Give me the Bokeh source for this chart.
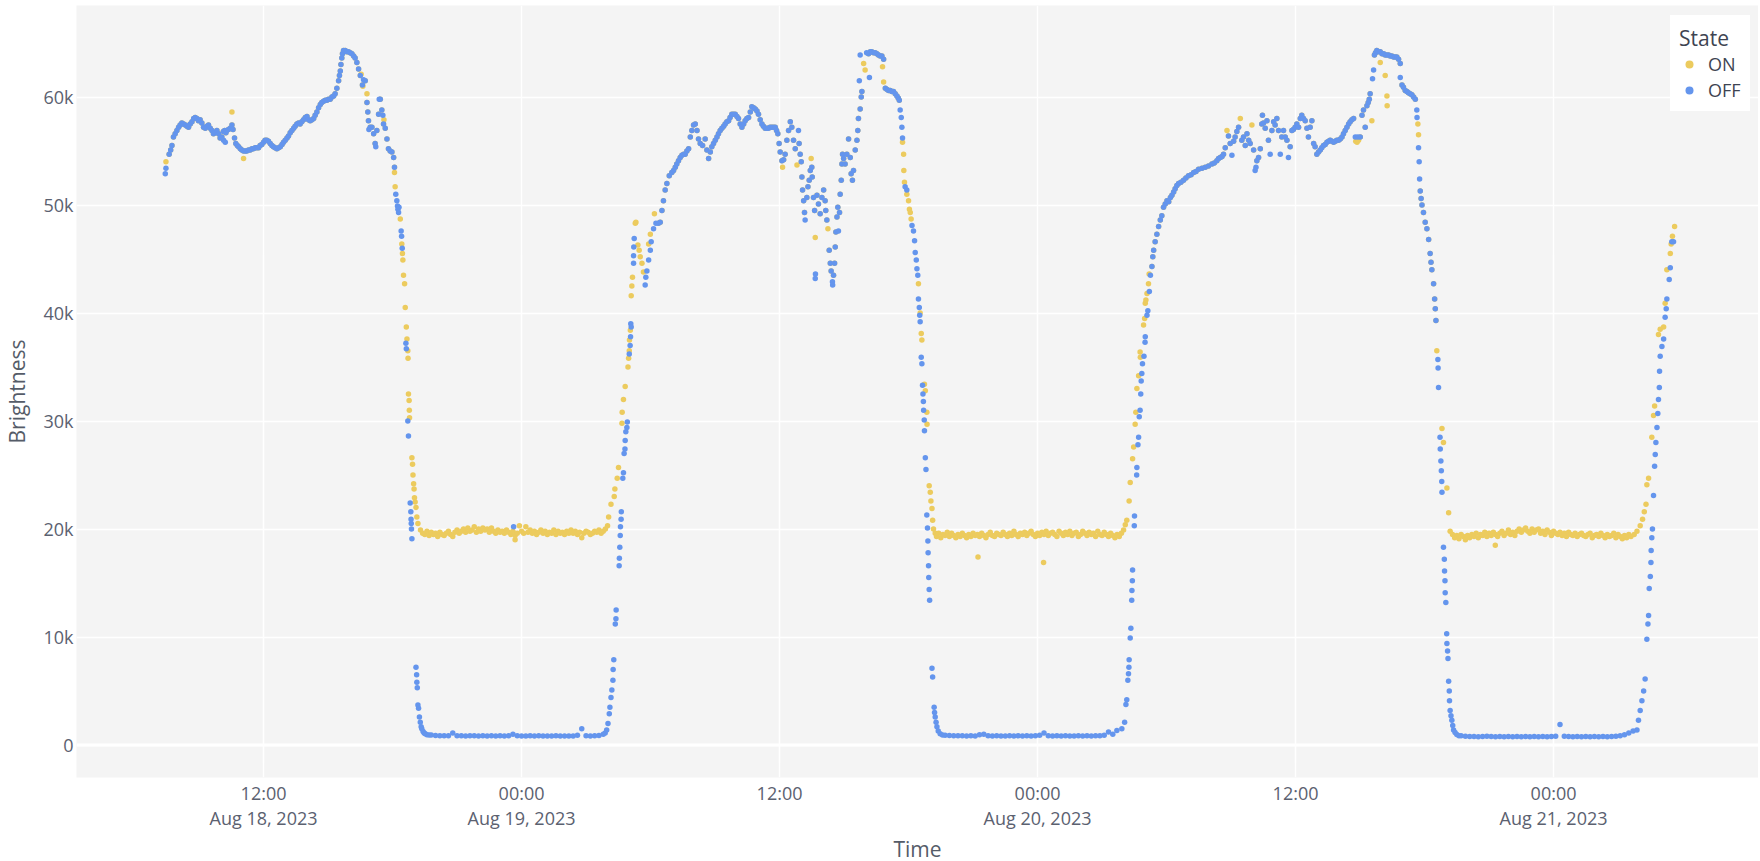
import pandas as pd
from bokeh.plotting import figure
from bokeh.models import FixedTicker, Range1d, Span, ColumnDataSource
from bokeh.embed import file_html
from bokeh.resources import INLINE

T0 = pd.Timestamp("2023-08-18 00:00")

# ---------------- data: (hours after 2023-08-18 00:00, brightness in thousands) ----------------
# daytime readings recorded under both states (curves overlap)
both_aug18 = [
    (7.61, 54.7), (7.68, 55.1), (7.74, 55.5), (7.81, 56.3), (7.89, 56.6), (7.97, 56.9), (8.05, 57.2), (8.12, 57.4),
    (8.20, 57.6), (8.28, 57.5), (8.36, 57.4), (8.44, 57.3), (8.51, 57.2), (8.59, 57.5), (8.67, 57.7), (8.75, 58.0),
    (8.82, 58.1), (8.90, 58.0), (8.97, 57.8), (9.05, 57.9), (9.13, 57.6), (9.21, 57.2), (9.29, 57.1), (9.36, 57.3),
    (9.44, 57.4), (9.52, 57.1), (9.60, 56.9), (9.67, 56.6), (9.75, 56.7), (9.83, 56.9), (9.91, 56.6), (9.98, 56.2),
    (10.06, 56.3), (10.13, 56.8), (10.19, 56.9), (10.25, 56.7), (10.29, 56.9), (10.37, 57.0), (10.45, 57.1),
    (10.53, 57.4), (10.58, 57.0), (10.65, 56.2), (10.71, 55.7), (10.78, 55.5), (10.84, 55.4), (10.92, 55.2),
    (10.99, 55.1), (11.07, 55.0), (11.15, 55.0), (11.22, 55.0), (11.30, 55.1), (11.38, 55.1), (11.46, 55.2),
    (11.53, 55.2), (11.61, 55.3), (11.69, 55.3), (11.77, 55.3), (11.84, 55.5), (11.92, 55.6), (12.00, 55.8),
    (12.07, 56.0), (12.15, 56.0), (12.23, 55.9), (12.31, 55.7), (12.39, 55.5), (12.46, 55.4), (12.54, 55.3),
    (12.62, 55.2), (12.70, 55.3), (12.78, 55.4), (12.86, 55.6), (12.93, 55.8), (13.01, 56.0), (13.09, 56.2),
    (13.16, 56.4), (13.24, 56.7), (13.32, 56.9), (13.40, 57.1), (13.47, 57.3), (13.55, 57.5), (13.63, 57.6),
    (13.70, 57.5), (13.78, 57.7), (13.86, 57.9), (13.94, 58.1), (14.02, 58.2), (14.09, 57.9), (14.17, 57.8),
    (14.25, 57.9), (14.33, 58.0), (14.40, 58.3), (14.48, 58.6), (14.56, 59.0), (14.64, 59.3), (14.71, 59.5),
    (14.79, 59.6), (14.87, 59.7), (14.95, 59.7), (15.02, 59.8), (15.10, 59.8), (15.18, 60.0), (15.26, 60.1),
    (15.33, 60.3), (15.41, 60.8), (15.49, 61.5), (15.53, 62.0), (15.57, 62.4), (15.60, 63.0), (15.64, 63.6),
    (15.67, 64.0), (15.72, 64.3), (15.80, 64.3), (15.87, 64.2), (15.95, 64.2), (16.03, 64.1), (16.11, 64.0),
    (16.19, 63.8), (16.26, 63.6), (16.34, 63.2), (16.42, 62.6), (16.50, 62.0), (16.60, 61.1), (16.73, 61.5),
    (16.81, 59.5), (16.85, 58.6), (16.88, 57.8), (16.96, 57.2), (17.04, 57.2), (17.12, 56.6), (17.19, 55.7),
    (17.27, 56.9), (17.35, 58.4), (17.43, 59.8), (17.50, 58.8), (17.58, 57.5), (17.66, 57.1), (17.74, 56.1),
    (17.81, 55.2), (17.89, 55.0), (17.97, 54.9), (18.05, 54.4), (18.09, 53.5),
]
both_aug19 = [
    (30.37, 48.3), (30.45, 48.4), (30.53, 49.5), (30.60, 50.4), (30.68, 51.4), (30.76, 52.0), (30.87, 52.7),
    (30.99, 53.0), (31.07, 53.2), (31.15, 53.5), (31.22, 53.8), (31.30, 54.1), (31.38, 54.4), (31.46, 54.6),
    (31.54, 54.7), (31.61, 54.7), (31.69, 55.0), (31.77, 55.2), (31.85, 56.3), (31.92, 56.9), (32.00, 57.4),
    (32.08, 57.5), (32.16, 56.9), (32.23, 56.1), (32.31, 55.7), (32.42, 55.5), (32.54, 56.1), (32.62, 55.1),
    (32.70, 54.3), (32.78, 54.9), (32.85, 55.4), (32.93, 55.7), (33.01, 56.0), (33.09, 56.3), (33.16, 56.6),
    (33.24, 56.9), (33.32, 57.1), (33.40, 57.3), (33.47, 57.5), (33.55, 57.7), (33.63, 57.8), (33.70, 58.1),
    (33.78, 58.4), (33.86, 58.4), (33.94, 58.4), (34.02, 58.2), (34.09, 58.0), (34.17, 57.5), (34.25, 57.2),
    (34.33, 57.5), (34.40, 57.8), (34.48, 58.0), (34.56, 58.1), (34.64, 58.6), (34.71, 59.1), (34.79, 59.0),
    (34.87, 58.9), (34.95, 58.7), (35.02, 58.4), (35.10, 57.9), (35.18, 57.5), (35.25, 57.3), (35.33, 57.1),
    (35.41, 57.1), (35.49, 57.1), (35.56, 57.2), (35.64, 57.2), (35.72, 57.2), (35.80, 57.2), (35.86, 56.9),
    (35.92, 56.6), (35.98, 55.7), (36.03, 54.9), (36.11, 54.1), (36.19, 54.2), (36.26, 54.7), (36.34, 56.0),
    (36.42, 56.9), (36.50, 57.7), (36.57, 57.2), (36.65, 56.0), (36.73, 55.2), (36.91, 55.7), (36.96, 54.7),
    (37.01, 54.0), (37.04, 52.6), (37.07, 51.4), (37.12, 50.4), (37.16, 49.3), (37.27, 50.7), (37.32, 51.7),
    (37.38, 52.3), (37.43, 53.2), (37.50, 53.5), (37.52, 52.6), (37.58, 50.7), (37.63, 49.5), (37.74, 50.9),
    (37.81, 50.1), (37.89, 49.2), (37.97, 50.7), (38.05, 51.4), (38.12, 50.4), (38.15, 49.5), (38.20, 48.6),
    (38.31, 45.8), (38.36, 44.6), (38.40, 43.9), (38.51, 43.5), (38.56, 44.6), (38.59, 46.1), (38.62, 47.5),
    (38.67, 48.9), (38.71, 49.8), (38.79, 49.3), (38.82, 51.0), (38.87, 52.3), (38.90, 53.8), (38.93, 54.7),
    (38.98, 54.3), (39.05, 53.8), (39.13, 54.7), (39.21, 56.1), (39.29, 54.4), (39.33, 52.9), (39.39, 52.3),
    (39.44, 53.2), (39.52, 55.1), (39.60, 56.0), (39.64, 56.9), (39.67, 58.0), (39.75, 58.9), (39.80, 60.0),
    (39.83, 60.5), (40.14, 64.0), (40.22, 64.2), (40.29, 64.2), (40.37, 64.1), (40.45, 64.1), (40.53, 64.0),
    (40.60, 63.9), (40.68, 63.8), (40.76, 63.8), (40.84, 63.5), (40.92, 60.8), (41.00, 60.7), (41.07, 60.6),
    (41.15, 60.6), (41.22, 60.5), (41.30, 60.5), (41.38, 60.3), (41.46, 60.1), (41.52, 59.9), (41.57, 59.7),
]
both_aug20 = [
    (53.32, 44.3), (53.36, 45.2), (53.40, 45.8), (53.47, 46.6), (53.55, 47.3), (53.63, 48.0), (53.71, 48.6),
    (53.78, 49.0), (53.86, 49.8), (53.94, 50.1), (54.02, 50.4), (54.10, 50.3), (54.18, 50.7), (54.25, 50.9),
    (54.33, 51.2), (54.40, 51.5), (54.48, 51.8), (54.56, 52.0), (54.67, 52.1), (54.79, 52.3), (54.90, 52.5),
    (55.02, 52.7), (55.14, 52.8), (55.26, 53.0), (55.37, 53.1), (55.49, 53.3), (55.65, 53.4), (55.80, 53.5),
    (55.95, 53.6), (56.11, 53.8), (56.22, 53.9), (56.34, 54.1), (56.42, 54.3), (56.50, 54.4), (56.58, 54.5),
    (56.65, 54.7), (56.73, 55.3), (56.88, 56.4), (56.96, 55.7), (57.12, 55.9), (57.19, 56.3), (57.27, 56.8),
    (57.35, 57.2), (57.50, 56.0), (57.58, 56.3), (57.66, 55.5), (57.74, 56.6), (57.82, 56.0), (57.89, 55.7),
    (58.05, 55.1), (58.20, 54.1), (58.28, 54.4), (58.36, 55.2), (58.43, 57.5), (58.46, 58.3), (58.51, 57.6),
    (58.59, 57.1), (58.67, 57.8), (58.74, 56.0), (58.90, 56.9), (58.98, 57.7), (59.05, 57.4), (59.13, 58.0),
    (59.21, 56.9), (59.36, 56.3), (59.44, 56.9), (59.52, 56.3), (59.60, 56.0), (59.75, 55.4), (59.83, 56.9),
    (59.90, 57.0), (59.98, 57.2), (60.06, 57.5), (60.14, 57.2), (60.22, 58.0), (60.29, 58.3), (60.37, 58.0),
    (60.45, 57.8), (60.53, 57.1), (60.60, 56.3), (60.68, 57.2), (60.76, 57.8), (60.84, 55.7), (60.91, 55.4),
    (60.99, 54.7), (61.07, 54.9), (61.15, 55.1), (61.22, 55.3), (61.30, 55.5), (61.38, 55.6), (61.46, 55.8),
    (61.54, 55.9), (61.61, 56.0), (61.69, 55.9), (61.77, 55.8), (61.85, 55.9), (61.92, 56.0), (62.00, 56.0),
    (62.08, 56.1), (62.16, 56.3), (62.23, 56.6), (62.31, 56.9), (62.39, 57.2), (62.47, 57.5), (62.54, 57.7),
    (62.62, 57.9), (62.70, 58.0), (63.01, 56.3), (63.09, 58.3), (63.16, 58.8), (63.24, 57.2), (63.32, 59.2),
    (63.38, 59.5), (63.43, 59.8), (63.47, 60.3), (63.67, 63.9), (63.72, 64.1), (63.78, 64.3), (63.86, 64.2),
    (63.94, 64.2), (64.02, 64.0), (64.10, 64.0), (64.17, 63.9), (64.25, 63.9), (64.33, 63.9), (64.40, 63.8),
    (64.48, 63.8), (64.56, 63.7), (64.63, 63.7), (64.71, 63.7), (64.79, 63.5), (64.87, 63.1), (64.95, 61.1),
    (65.02, 60.9), (65.10, 60.6), (65.18, 60.5), (65.25, 60.4), (65.33, 60.3), (65.41, 60.2), (65.49, 60.0),
    (65.57, 59.8), (65.80, 51.3), (65.84, 50.6), (65.88, 50.0), (65.95, 49.3), (66.03, 48.4), (66.11, 47.8),
    (66.19, 46.8), (66.26, 45.5), (66.30, 44.7), (66.34, 44.0), (66.42, 42.7), (66.47, 41.3), (66.50, 40.4),
    (66.53, 39.3),
]

# readings seen only in the ON state
on_only = [
    (7.46, 54.0), (10.53, 58.6), (11.07, 54.3), (16.54, 62.1), (16.62, 61.0), (16.81, 60.3), (17.60, 57.9),
    (23.70, 19.0), (36.14, 53.5), (36.81, 53.7), (37.47, 54.3), (37.66, 47.0), (38.25, 47.8), (39.91, 63.1),
    (39.98, 62.5), (40.79, 62.8), (40.84, 61.4), (45.23, 17.4), (48.28, 16.9), (56.81, 56.9), (57.43, 58.0),
    (57.97, 57.4), (62.80, 55.9), (62.86, 55.8), (62.93, 56.0), (63.55, 57.8), (63.94, 63.2), (64.17, 62.0),
    (64.25, 60.1), (64.26, 59.2), (65.69, 57.5), (65.72, 56.5), (69.29, 18.5),
]
# readings seen only in the OFF state
off_only = [
    (7.43, 52.9), (7.46, 53.4), (10.14, 56.0), (10.22, 55.8), (16.65, 61.6), (16.90, 57.0), (17.22, 55.4),
    (17.38, 59.8), (17.55, 58.3), (23.63, 20.2), (36.88, 56.9), (37.19, 48.6), (37.66, 43.2), (37.67, 43.6),
    (38.46, 42.9), (38.47, 42.6), (38.74, 47.6), (39.71, 61.5), (39.75, 63.9), (40.05, 64.1), (40.18, 61.8),
    (57.04, 54.6), (58.12, 53.2), (58.16, 53.5), (58.82, 54.7), (59.29, 54.7), (59.67, 54.4), (62.78, 56.3),
    (62.90, 56.3), (63.58, 61.7), (63.63, 62.5), (64.87, 61.8), (65.64, 58.8), (65.65, 58.1), (65.72, 55.3),
    (65.75, 54.0), (65.77, 52.4),
]

# dusk / dawn transitions
on_transitions = [
    (18.09, 53.0), (18.12, 51.7), (18.36, 48.7), (18.43, 46.4), (18.46, 45.5), (18.48, 44.9), (18.51, 43.5),
    (18.56, 42.7), (18.59, 40.5), (18.64, 38.7), (18.67, 37.6), (18.71, 36.5), (18.72, 35.8), (18.74, 32.5),
    (18.77, 31.9), (18.78, 31.0), (18.79, 30.3), (18.90, 26.6), (18.93, 26.0), (18.95, 25.0), (18.98, 24.2),
    (19.00, 23.7), (19.02, 22.9), (19.05, 22.5), (19.09, 22.0), (19.13, 21.1), (19.18, 20.5),
    (28.05, 21.1), (28.16, 22.3), (28.31, 23.0), (28.34, 23.7), (28.45, 24.7), (28.51, 25.7), (28.67, 29.8),
    (28.68, 30.8), (28.74, 32.0), (28.82, 33.2), (28.95, 35.0), (28.98, 35.8), (29.01, 36.5), (29.02, 37.5),
    (29.06, 38.4), (29.10, 41.6), (29.13, 42.5), (29.16, 43.3), (29.29, 48.3), (29.32, 48.4), (29.41, 46.3),
    (29.47, 45.8), (29.52, 45.2), (29.60, 44.6), (29.67, 43.8), (29.91, 46.4), (29.99, 47.3), (30.18, 49.2),
    (41.72, 55.8), (41.77, 54.7), (41.78, 53.2), (41.81, 52.1), (41.92, 51.0), (42.00, 50.4), (42.04, 49.6),
    (42.08, 49.3), (42.12, 48.7), (42.46, 42.7), (42.54, 40.0), (42.59, 38.1), (42.62, 37.5), (42.74, 33.4),
    (42.78, 32.8), (42.85, 30.8), (42.86, 29.7), (42.96, 24.0), (43.01, 23.4), (43.04, 22.6), (43.09, 21.9),
    (43.12, 20.8), (43.16, 20.0), (43.24, 19.6),
    (52.08, 20.4), (52.15, 20.8), (52.26, 22.6), (52.31, 24.3), (52.42, 26.5), (52.47, 27.6), (52.54, 29.7),
    (52.57, 30.8), (52.62, 33.0), (52.70, 34.2), (52.77, 36.4), (52.78, 35.9), (52.93, 38.9), (52.98, 39.5),
    (53.01, 40.9), (53.04, 41.2), (53.09, 41.8), (53.16, 42.7), (53.19, 43.6),
    (66.57, 36.5), (66.81, 29.3), (66.88, 28.0), (67.04, 23.8), (67.12, 21.5), (67.19, 19.8),
    (75.75, 19.5), (75.88, 19.8), (76.03, 20.3), (76.14, 20.9), (76.22, 21.6), (76.30, 22.3), (76.34, 24.1),
    (76.42, 24.7), (76.57, 28.5), (76.65, 30.5), (76.70, 31.4), (76.88, 38.0), (76.96, 38.5), (77.12, 38.7),
    (77.19, 40.9), (77.27, 44.0), (77.43, 45.5), (77.47, 46.4), (77.53, 47.1), (77.63, 48.0),
]
off_transitions = [
    (18.15, 51.0), (18.20, 50.4), (18.23, 49.9), (18.25, 49.6), (18.28, 49.3), (18.30, 49.8), (18.40, 47.6),
    (18.42, 47.1), (18.45, 46.0), (18.62, 37.2), (18.64, 36.7), (18.71, 30.0), (18.74, 28.6), (18.82, 22.4),
    (18.85, 21.6), (18.86, 20.9), (18.87, 20.5), (18.88, 20.0), (18.90, 19.1), (19.09, 7.2), (19.12, 6.5),
    (19.13, 5.8), (19.15, 5.3), (19.18, 3.7), (19.21, 3.4), (19.25, 2.6), (19.29, 2.1), (19.33, 1.7),
    (19.36, 1.5), (19.42, 1.25), (19.47, 1.1), (19.52, 1.04), (19.60, 0.95), (19.70, 0.92),
    (27.89, 1.1), (27.96, 1.4), (28.02, 2.0), (28.08, 2.9), (28.11, 3.5), (28.16, 4.4), (28.20, 5.1),
    (28.25, 6.0), (28.26, 7.0), (28.29, 7.9), (28.36, 11.2), (28.39, 11.7), (28.40, 12.5), (28.54, 16.6),
    (28.55, 17.3), (28.57, 18.3), (28.59, 19.4), (28.60, 20.2), (28.63, 20.9), (28.64, 21.6), (28.71, 24.7),
    (28.74, 25.2), (28.77, 27.0), (28.81, 27.4), (28.82, 28.2), (28.85, 29.0), (28.90, 29.4), (28.92, 29.9),
    (29.01, 36.2), (29.05, 37.0), (29.07, 37.8), (29.08, 39.0), (29.10, 38.7), (29.21, 44.6), (29.21, 45.3),
    (29.22, 46.1), (29.24, 46.9), (29.75, 42.6), (29.78, 43.3), (29.83, 43.9), (29.91, 44.9), (29.99, 45.8),
    (30.03, 46.6), (30.14, 47.8), (30.25, 48.3),
    (41.61, 58.8), (41.66, 58.1), (41.69, 57.2), (41.72, 56.2), (41.84, 51.7), (41.92, 51.4), (42.16, 48.1),
    (42.23, 47.6), (42.28, 46.7), (42.31, 45.6), (42.36, 44.9), (42.39, 44.1), (42.43, 43.5), (42.46, 41.3),
    (42.50, 40.5), (42.52, 39.8), (42.54, 39.2), (42.59, 35.9), (42.62, 35.3), (42.65, 33.3), (42.67, 32.5),
    (42.69, 31.8), (42.70, 31.0), (42.73, 30.1), (42.74, 29.1), (42.78, 26.6), (42.81, 25.5), (42.85, 21.3),
    (42.88, 20.1), (42.90, 18.9), (42.91, 17.8), (42.93, 16.6), (42.94, 15.5), (42.96, 14.4), (42.98, 13.4),
    (43.09, 7.1), (43.12, 6.3), (43.19, 3.5), (43.21, 3.0), (43.24, 2.6), (43.28, 2.1), (43.32, 1.7),
    (43.38, 1.3), (43.47, 1.04), (43.58, 0.93),
    (51.69, 1.35), (51.92, 1.5), (52.05, 2.1), (52.11, 3.75), (52.15, 4.2), (52.20, 6.0), (52.23, 6.6),
    (52.25, 7.2), (52.26, 7.9), (52.31, 9.9), (52.34, 10.8), (52.38, 13.4), (52.39, 14.3), (52.41, 15.2),
    (52.42, 16.2), (52.50, 20.3), (52.51, 21.2), (52.61, 25.0), (52.62, 25.7), (52.67, 27.8), (52.70, 28.5),
    (52.73, 30.4), (52.77, 31.0), (52.80, 32.5), (52.82, 33.7), (52.85, 34.4), (52.88, 35.3), (52.95, 36.0),
    (53.00, 37.3), (53.01, 37.8), (53.09, 39.8), (53.13, 40.2), (53.20, 42.0), (53.25, 43.5),
    (66.62, 35.7), (66.63, 34.9), (66.65, 33.1), (66.72, 28.5), (66.73, 27.4), (66.76, 26.3), (66.78, 25.4),
    (66.80, 24.4), (66.81, 23.4), (66.88, 18.3), (66.92, 17.2), (66.93, 16.1), (66.95, 15.2), (66.96, 14.1),
    (66.99, 13.2), (67.03, 10.3), (67.04, 9.4), (67.07, 8.7), (67.09, 8.0), (67.12, 5.9), (67.15, 5.0),
    (67.16, 4.1), (67.19, 3.2), (67.23, 2.7), (67.27, 2.3), (67.31, 1.8), (67.35, 1.4), (67.42, 1.15),
    (67.50, 0.97), (67.60, 0.85),
    (75.88, 1.4), (75.95, 2.3), (76.03, 3.2), (76.11, 4.1), (76.19, 5.0), (76.26, 6.1), (76.34, 9.8),
    (76.39, 11.2), (76.42, 12.0), (76.45, 14.5), (76.50, 15.6), (76.53, 16.9), (76.54, 18.0), (76.57, 19.2),
    (76.60, 20.0), (76.65, 23.1), (76.70, 25.8), (76.73, 26.9), (76.76, 28.0), (76.81, 29.4), (76.85, 30.7),
    (76.88, 32.0), (76.92, 33.1), (76.93, 34.6), (76.96, 36.0), (77.04, 36.9), (77.12, 37.6), (77.19, 39.6),
    (77.24, 40.4), (77.27, 41.3), (77.38, 43.1), (77.43, 44.2), (77.50, 46.6), (77.58, 46.6),
]

# night plateaus, regularly sampled (start hour, sampling step in hours, readings in thousands)
night_on_start = [19.3, 43.3, 67.3]
night_on_step = 0.1
night_on = [
    [19.9, 19.6, 19.5, 19.8, 19.4, 19.7, 19.5, 19.6, 19.3, 19.7,
     19.5, 19.4, 19.6, 19.8, 19.5, 19.3, 19.7, 19.9, 19.6, 19.8,
     20.0, 19.7, 20.1, 19.8, 19.9, 20.2, 19.7, 20.0, 19.8, 20.1,
     19.9, 20.0, 19.7, 20.1, 19.8, 19.6, 19.9, 19.7, 19.8, 19.6,
     19.9, 19.7, 19.5, 19.8, 19.4, 19.6, 20.3, 19.8, 19.6, 20.2,
     19.7, 19.9, 19.6, 19.8, 19.5, 19.7, 19.9, 19.6, 19.8, 19.5,
     19.7, 19.6, 19.9, 19.5, 19.8, 19.6, 19.7, 19.5, 19.8, 19.6,
     19.9, 19.6, 19.8, 19.5, 19.7, 19.2, 19.6, 19.8, 19.7, 19.5,
     19.6, 19.8, 19.7, 19.9, 19.6, 19.8, 20.0, 20.3],
    [19.3, 19.6, 19.2, 19.5, 19.4, 19.7, 19.3, 19.6, 19.4, 19.2,
     19.5, 19.3, 19.6, 19.4, 19.2, 19.5, 19.3, 19.6, 19.4, 19.5,
     19.3, 19.6, 19.4, 19.2, 19.5, 19.7, 19.4, 19.3, 19.6, 19.5,
     19.4, 19.7, 19.5, 19.3, 19.6, 19.4, 19.8, 19.5, 19.3, 19.6,
     19.5, 19.7, 19.4, 19.6, 19.8, 19.5, 19.3, 19.6, 19.4, 19.7,
     19.5, 19.8, 19.4, 19.6, 19.7, 19.5, 19.3, 19.8, 19.6, 19.4,
     19.7, 19.5, 19.8, 19.4, 19.6, 19.7, 19.3, 19.5, 19.8, 19.6,
     19.4, 19.7, 19.5, 19.6, 19.3, 19.8, 19.5, 19.4, 19.7, 19.5,
     19.3, 19.6, 19.4, 19.2, 19.5, 19.3, 19.6, 19.9],
    [19.5, 19.2, 19.4, 19.1, 19.5, 19.3, 19.0, 19.4, 19.2, 19.5,
     19.3, 19.6, 19.2, 19.5, 19.4, 19.7, 19.3, 19.6, 19.4, 19.7,
     19.5, 19.3, 19.6, 19.8, 19.4, 19.6, 19.9, 19.5, 19.7, 19.4,
     19.8, 20.0, 19.7, 19.9, 20.1, 19.8, 19.6, 20.0, 19.7, 19.9,
     20.0, 19.6, 19.8, 19.5, 19.9, 19.7, 19.4, 19.8, 19.6, 19.5,
     19.7, 19.4, 19.6, 19.3, 19.7, 19.5, 19.4, 19.6, 19.3, 19.5,
     19.6, 19.4, 19.3, 19.5, 19.6, 19.2, 19.4, 19.5, 19.3, 19.6,
     19.4, 19.2, 19.5, 19.3, 19.4, 19.6, 19.2, 19.5, 19.3, 19.1,
     19.4, 19.2, 19.5, 19.3],
]
night_off_start = [19.8, 43.7, 67.7]
night_off_step = 0.2
night_off = [
    [0.92, 0.88, 0.86, 0.85, 0.86, 1.1, 0.86, 0.85, 0.84, 0.85,
     0.85, 0.84, 0.85, 0.84, 0.85, 0.84, 0.85, 0.84, 0.85, 1.0,
     0.85, 0.84, 0.84, 0.85, 0.84, 0.85, 0.84, 0.83, 0.84, 0.85,
     0.84, 0.83, 0.84, 0.84, 0.9, 1.5, 0.85, 0.84, 0.85, 0.88, 1.0],
    [0.9, 0.88, 0.86, 0.85, 0.85, 0.84, 0.85, 0.84, 0.95, 1.0,
     0.85, 0.84, 0.85, 0.84, 0.84, 0.85, 0.84, 0.85, 0.84, 0.85,
     0.84, 0.85, 0.9, 1.1, 0.85, 0.84, 0.85, 0.84, 0.85, 0.84,
     0.84, 0.85, 0.84, 0.85, 0.84, 0.85, 0.86, 0.9, 1.2, 1.0],
    [0.85, 0.8, 0.78, 0.78, 0.77, 0.78, 0.8, 0.78, 0.77, 0.78,
     0.77, 0.78, 0.77, 0.78, 0.77, 0.78, 0.77, 0.78, 0.77, 0.78,
     0.77, 0.78, 0.8, 1.9, 0.8, 0.78, 0.77, 0.78, 0.77, 0.78,
     0.77, 0.78, 0.77, 0.78, 0.77, 0.78, 0.8, 0.85, 0.95, 1.1, 1.3],
]

series_names = ["ON", "OFF"]
series_colors = ["#ECCB5E", "#6495ED"]

x_tick_hours = [12, 24, 36, 48, 60, 72]
x_tick_labels = ["12:00\nAug 18, 2023", "00:00\nAug 19, 2023", "12:00",
                 "00:00\nAug 20, 2023", "12:00", "00:00\nAug 21, 2023"]
y_ticks = [0, 10000, 20000, 30000, 40000, 50000, 60000]
y_tick_labels = ["0", "10k", "20k", "30k", "40k", "50k", "60k"]


def build(point_groups, starts, step, nights):
    hrs, vals = [], []
    for grp in point_groups:
        hrs += [h for h, _ in grp]
        vals += [v for _, v in grp]
    for s, vs in zip(starts, nights):
        hrs += [s + i * step for i in range(len(vs))]
        vals += vs
    t = T0 + pd.to_timedelta(hrs, unit="h")
    return ColumnDataSource(dict(t=t, v=[x * 1000 for x in vals]))


src_on = build([both_aug18, both_aug19, both_aug20, on_only, on_transitions],
               night_on_start, night_on_step, night_on)
src_off = build([both_aug18, both_aug19, both_aug20, off_only, off_transitions],
                night_off_start, night_off_step, night_off)


def ms(h):
    return int((T0 + pd.Timedelta(hours=h)).value // 10**6)


FRAME_W = 1682
FRAME_H = 772
PX_PER_HOUR = 21.5
PX_PER_K = 10.8
X_START_H = 3.30
Y_END = 739.5 / PX_PER_K * 1000            # zero line 739.5 px below the frame top
Y_START = Y_END - FRAME_H / PX_PER_K * 1000

FONT = "Open Sans"
p = figure(frame_width=FRAME_W, frame_height=FRAME_H, x_axis_type="datetime", output_backend="svg",
           toolbar_location=None,
           x_range=Range1d(start=ms(X_START_H), end=ms(X_START_H + FRAME_W / PX_PER_HOUR)),
           y_range=Range1d(start=Y_START, end=Y_END),
           min_border_left=70, min_border_right=0, min_border_top=5, min_border_bottom=0,
           background_fill_color="#F4F4F4", border_fill_color="white", outline_line_color=None)

xt = FixedTicker(ticks=[ms(h) for h in x_tick_hours])
yt = FixedTicker(ticks=y_ticks)
p.xaxis.ticker = xt
p.xgrid.ticker = xt
p.yaxis.ticker = yt
p.ygrid.ticker = yt
p.xaxis.major_label_overrides = {ms(h): lab for h, lab in zip(x_tick_hours, x_tick_labels)}
p.yaxis.major_label_overrides = {v: lab for v, lab in zip(y_ticks, y_tick_labels)}

for g in (p.xgrid, p.ygrid):
    g.grid_line_color = "white"
    g.grid_line_width = 1.5
p.add_layout(Span(location=0, dimension="width", line_color="white", line_width=3, level="underlay"))

for ax in (p.xaxis, p.yaxis):
    ax.axis_line_color = None
    ax.major_tick_line_color = None
    ax.minor_tick_line_color = None
    ax.major_tick_out = 0
    ax.major_tick_in = 0
    ax.minor_tick_out = 0
    ax.minor_tick_in = 0
    ax.major_label_text_font = FONT
    ax.major_label_text_font_size = "18px"
    ax.major_label_text_color = "#5b6170"
    ax.axis_label_text_font = FONT
    ax.axis_label_text_font_size = "21px"
    ax.axis_label_text_font_style = "normal"
    ax.axis_label_text_color = "#555c68"
p.xaxis.major_label_text_line_height = 1.07
p.xaxis.axis_label = "Time"
p.yaxis.axis_label = "Brightness"
p.yaxis.major_label_standoff = 3
p.xaxis.major_label_standoff = 3
p.yaxis.axis_label_standoff = 9
p.xaxis.axis_label_standoff = 2

for src, name, col in zip([src_on, src_off], series_names, series_colors):
    p.scatter(x="t", y="v", source=src, size=5.5, fill_color=col, line_color=None, legend_label=name)

lg = p.legend[0]
lg.title = "State"
lg.title_text_font = FONT
lg.title_text_font_size = "21px"
lg.title_text_font_style = "normal"
lg.title_text_color = "#3e4452"
lg.title_standoff = 0
lg.label_text_font = FONT
lg.label_text_font_size = "18px"
lg.label_text_color = "#3e4452"
# bottom-left corner of the legend box, in px from the frame's bottom-left corner
lg.location = (1594, 666)
lg.margin = 0
lg.padding = 8
lg.spacing = 2
lg.glyph_width = 20
lg.glyph_height = 20
lg.label_height = 20
lg.label_standoff = 9
lg.background_fill_color = "white"
lg.background_fill_alpha = 1.0
lg.border_line_color = "white"
lg.border_line_width = 1

open("out.html", "w").write(file_html(p, INLINE))
